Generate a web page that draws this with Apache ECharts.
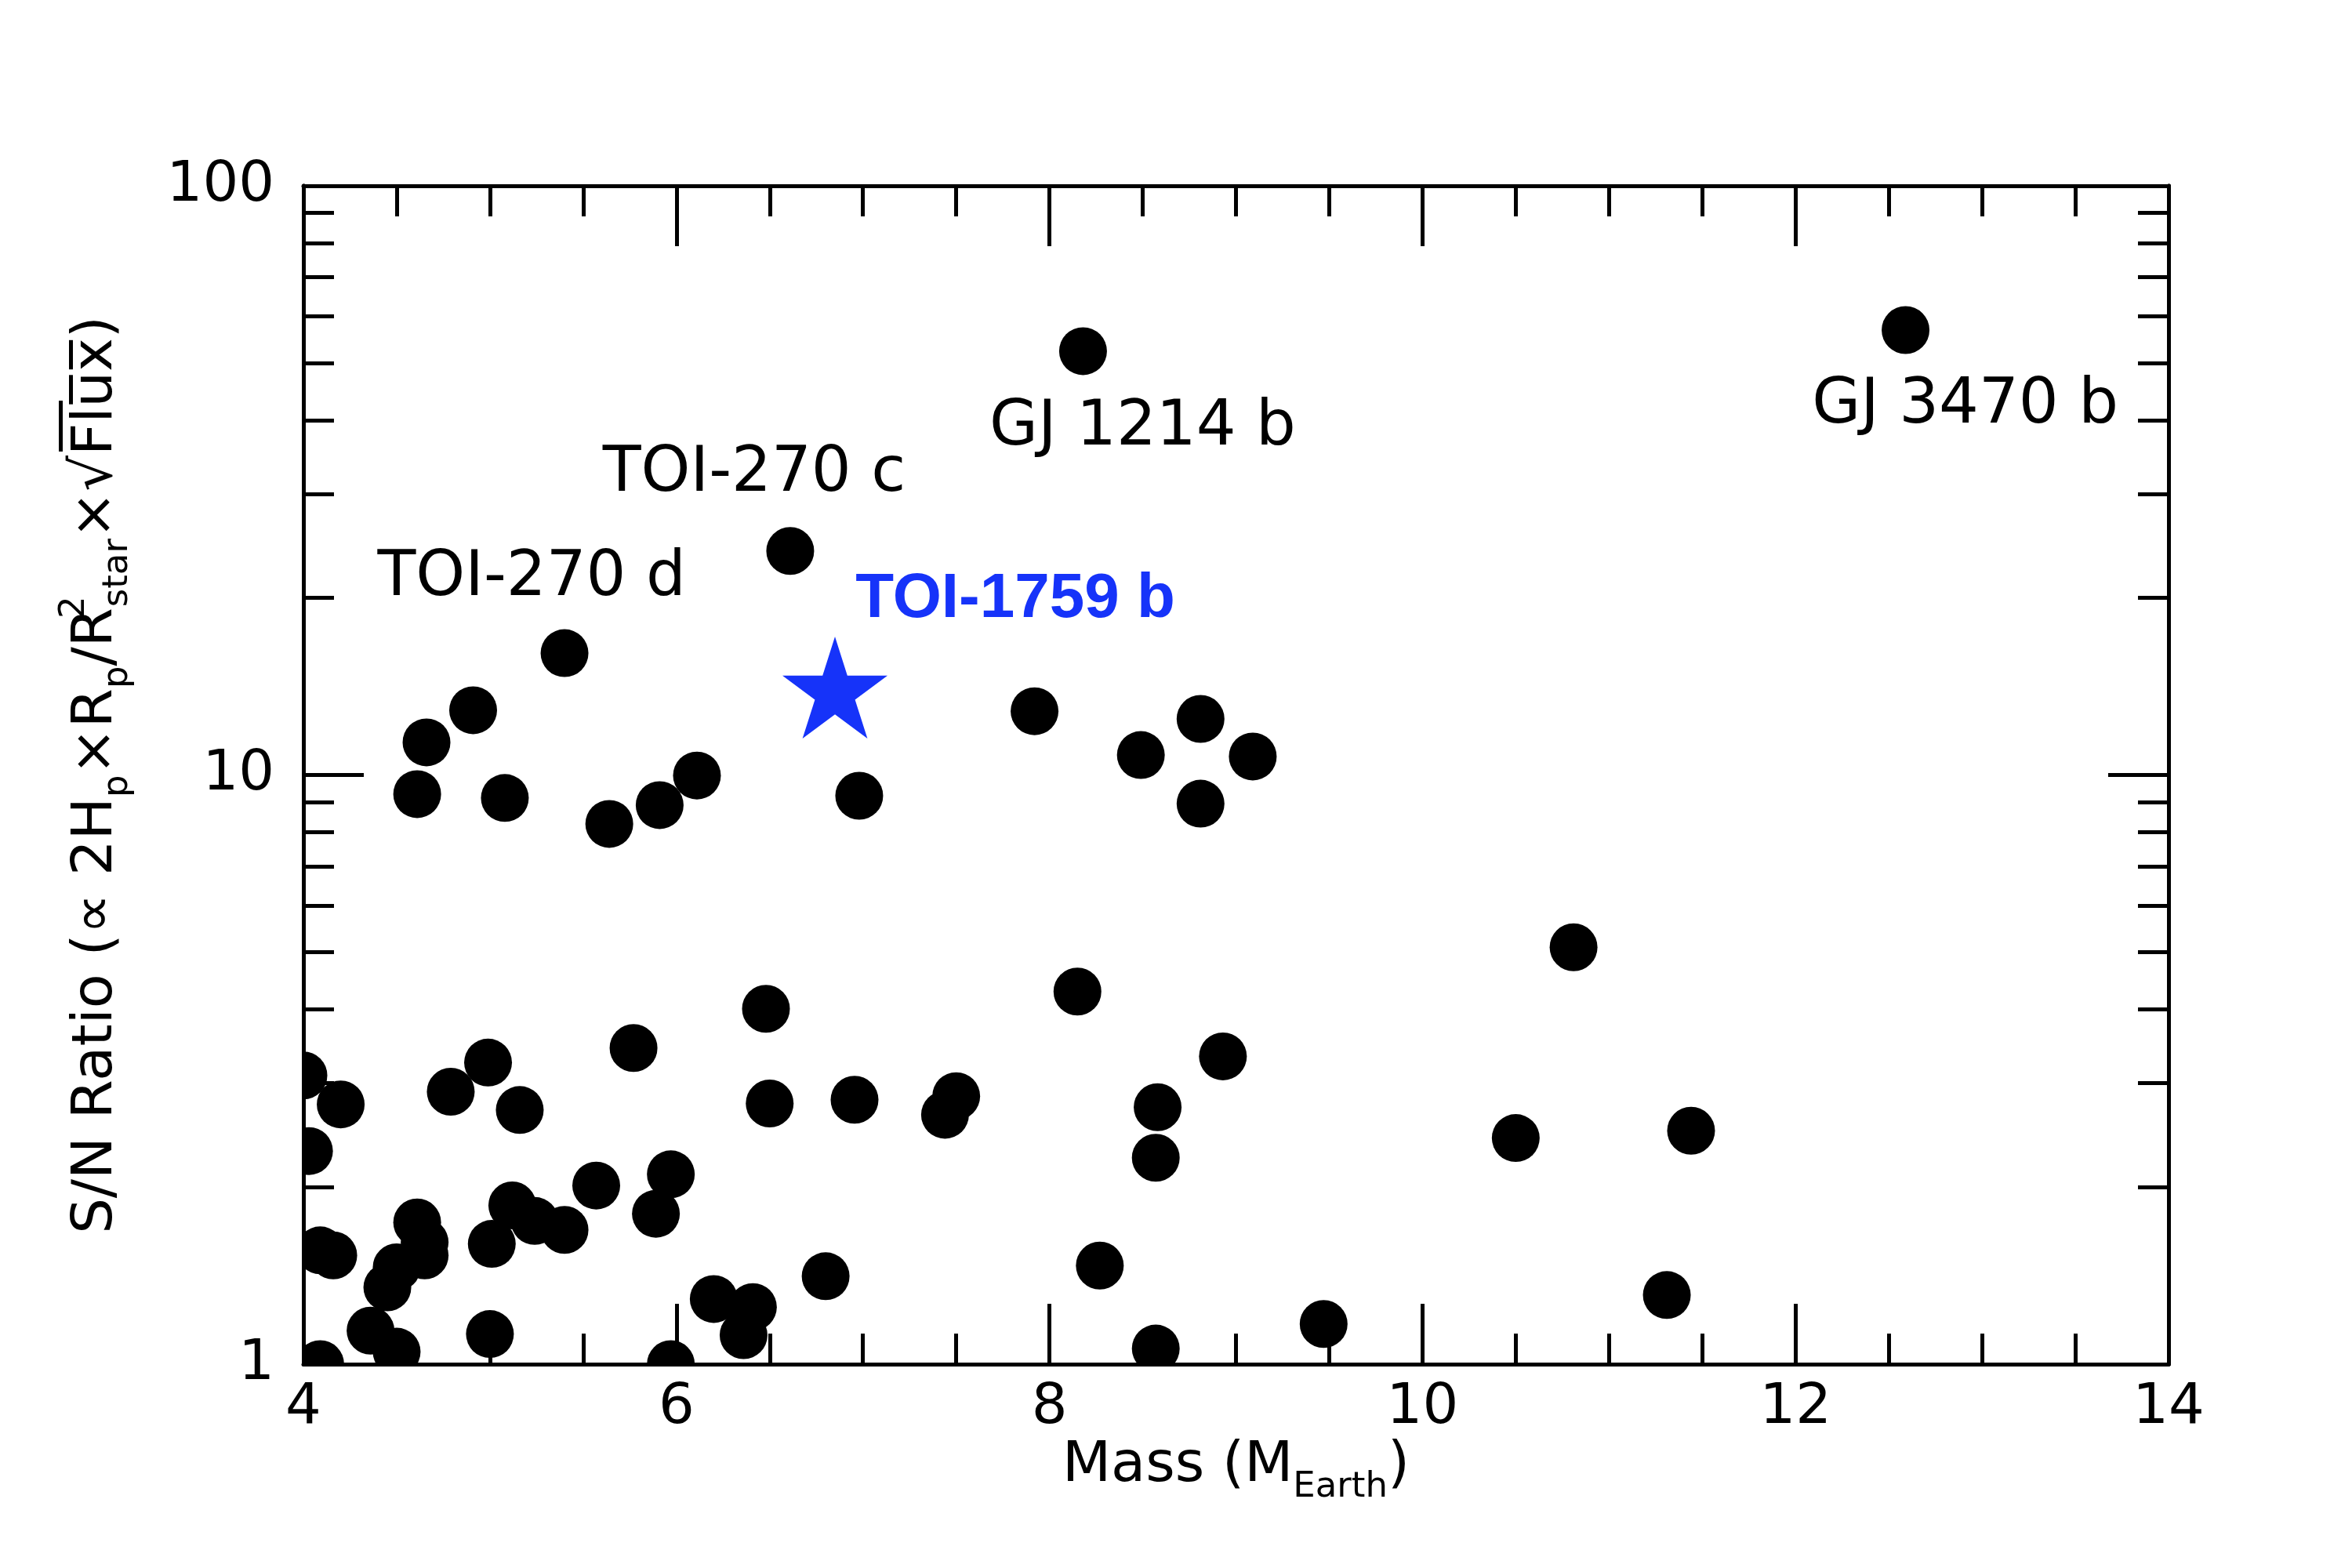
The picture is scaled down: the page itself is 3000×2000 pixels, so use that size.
<!DOCTYPE html>
<html>
<head>
<meta charset="utf-8">
<title>S/N ratio vs mass</title>
<script src="https://cdn.jsdelivr.net/npm/echarts@6/dist/echarts.min.js"></script>
<style>
  html, body { margin: 0; padding: 0; background: #fff; }
  #main { width: 3000px; height: 2000px; }
</style>
</head>
<body>
<div id="main"></div>
<script>
// field planets: mass (Earth masses) and S/N ratio
var mass = [
  4.91, 4.66, 4.61, 5.08, 5.64, 5.91, 6.11, 6.98, 7.92, 8.49, 8.81, 8.81, 9.09,
  10.81, 8.15, 6.48, 5.77, 4.99, 8.93, 4.79, 4.00, 4.20, 5.16, 6.50, 6.955, 7.50, 7.44, 8.58, 8.57, 10.50, 11.44, 4.03,
  5.97, 5.57, 5.12, 5.24, 5.40, 5.89, 4.61, 4.65, 4.65, 4.09, 4.16, 5.01, 4.50, 4.45, 6.80, 8.27, 6.20, 6.41, 6.36,
  4.36, 5.00, 4.50, 4.09, 5.97, 8.57, 9.47, 11.31
];
var snr = [
  12.88, 11.36, 9.28, 9.14, 8.26, 8.89, 9.98, 9.22, 12.83, 10.81, 12.45, 8.94, 10.75,
  5.10, 4.29, 4.01, 3.44, 3.25, 3.33, 2.90, 3.09, 2.76, 2.70, 2.77, 2.81, 2.85, 2.65, 2.73, 2.24, 2.42, 2.49, 2.30,
  2.10, 2.01, 1.86, 1.75, 1.69, 1.80, 1.74, 1.61, 1.53, 1.56, 1.53, 1.60, 1.46, 1.35, 1.41, 1.47, 1.29, 1.25, 1.12,
  1.14, 1.125, 1.05, 1.00, 1.00, 1.063, 1.17, 1.31
];

// labelled planets
var namedPlanets = ['GJ 3470 b', 'GJ 1214 b', 'TOI-270 c', 'TOI-270 d'];
var namedMass = [12.59, 8.18, 6.61, 5.40];
var namedSnr = [56.9, 52.4, 24.0, 16.1];

// target
var targetName = 'TOI-1759 b';
var targetMass = 6.85;
var targetSnr = 14.07;

var xTicks = [4, 6, 8, 10, 12, 14];
var yMajorTicks = [1, 10, 100];
var yMinorTicks = [2, 3, 4, 5, 6, 7, 8, 9, 20, 30, 40, 50, 60, 70, 80, 90];

var labelOffset = {
  'GJ 3470 b': [76, 97],
  'GJ 1214 b': [76, 98],
  'TOI-270 c': [-46, -98],
  'TOI-270 d': [-42, -95]
};

var starPath = 'path://M50 0 L61.23 34.55 L97.55 34.55 L68.16 55.9 L79.39 90.45 L50 69.1 L20.61 90.45 L31.84 55.9 L2.45 34.55 L38.77 34.55 Z';
var font = 'DejaVu Sans';
var blue = '#1633f9';

var myChart = echarts.init(document.getElementById('main'));

function xAxisOpt(pos, withLabel) {
  return {
    type: 'value',
    position: pos,
    min: xTicks[0],
    max: xTicks[xTicks.length - 1],
    interval: 2,
    z: 10,
    axisLine: { show: true, onZero: false, lineStyle: { color: '#000', width: 5 } },
    axisTick: { show: true, inside: true, length: 77, lineStyle: { color: '#000', width: 5 } },
    minorTick: { show: true, splitNumber: 4, length: 39, lineStyle: { color: '#000', width: 5 } },
    splitLine: { show: false },
    minorSplitLine: { show: false },
    axisLabel: {
      show: withLabel, color: '#000', fontFamily: font, fontSize: 72, margin: 20
    },
    name: withLabel ? 'Mass (M{sub|Earth})' : '',
    nameLocation: 'middle',
    nameMoveOverlap: false,
    nameGap: 80,
    nameTextStyle: {
      color: '#000', fontFamily: font, fontSize: 72, lineHeight: 100,
      rich: {
        sub: { fontFamily: font, fontSize: 45, lineHeight: 45, verticalAlign: 'bottom', color: '#000' }
      }
    }
  };
}

function yAxisOpt(pos, ticks, len, withLabel, withName) {
  return {
    type: 'log',
    logBase: 10,
    position: pos,
    min: 1,
    max: 100,
    z: 10,
    axisLine: { show: true, onZero: false, lineStyle: { color: '#000', width: 5 } },
    axisTick: { show: true, inside: true, length: len, customValues: ticks, lineStyle: { color: '#000', width: 5 } },
    minorTick: { show: false },
    splitLine: { show: false },
    axisLabel: {
      show: withLabel, customValues: yMajorTicks, color: '#000', fontFamily: font, fontSize: 72, margin: 37
    },
    name: withName ? 'S/N Ratio (\u221D 2H{sub|p}\u00D7R{sub|p}/R{sup|2}{sub|star}\u00D7\u221AF\u0305l\u0305u\u0305x\u0305)' : '',
    nameLocation: 'middle',
    nameMoveOverlap: false,
    nameGap: 214,
    nameTextStyle: {
      color: '#000', fontFamily: font, fontSize: 72, lineHeight: 100,
      rich: {
        sub: { fontFamily: font, fontSize: 45, lineHeight: 45, verticalAlign: 'bottom', color: '#000' },
        sup: { fontFamily: font, fontSize: 45, lineHeight: 45, verticalAlign: 'top', width: 1, color: '#000' }
      }
    }
  };
}

var fieldData = [];
for (var i = 0; i < mass.length; i++) {
  fieldData.push([mass[i], snr[i]]);
}

var namedData = [];
for (var j = 0; j < namedPlanets.length; j++) {
  namedData.push({
    name: namedPlanets[j],
    value: [namedMass[j], namedSnr[j]],
    label: { offset: labelOffset[namedPlanets[j]] }
  });
}

var option = {
  backgroundColor: '#fff',
  animation: false,
  grid: { left: 387, right: 234, top: 237, bottom: 260, containLabel: false, show: false },
  xAxis: [xAxisOpt('bottom', true), xAxisOpt('top', false)],
  yAxis: [
    yAxisOpt('left', yMajorTicks, 77, true, true),
    yAxisOpt('left', yMinorTicks, 39, false, false),
    yAxisOpt('right', yMajorTicks, 77, false, false),
    yAxisOpt('right', yMinorTicks, 39, false, false)
  ],
  series: [
    {
      name: 'planets',
      type: 'custom',
      coordinateSystem: 'cartesian2d',
      xAxisIndex: 0,
      yAxisIndex: 0,
      clip: true,
      z: 2,
      data: fieldData,
      renderItem: function (params, api) {
        var p = api.coord([api.value(0), api.value(1)]);
        return {
          type: 'circle',
          shape: { cx: p[0], cy: p[1], r: 30.5 },
          style: { fill: '#000' }
        };
      }
    },
    {
      name: 'named',
      type: 'scatter',
      xAxisIndex: 0,
      yAxisIndex: 0,
      symbol: 'circle',
      symbolSize: 61,
      itemStyle: { color: '#000', opacity: 1 },
      z: 2,
      label: {
        show: true,
        position: 'inside',
        formatter: '{b}',
        color: '#000',
        opacity: 1,
        fontFamily: font,
        fontSize: 80
      },
      data: namedData
    },
    {
      name: targetName,
      type: 'scatter',
      xAxisIndex: 0,
      yAxisIndex: 0,
      symbol: starPath,
      symbolSize: [134, 130],
      itemStyle: { color: blue, opacity: 1 },
      z: 3,
      label: {
        show: true,
        position: 'inside',
        offset: [230, -112],
        formatter: '{b}',
        color: blue,
        opacity: 1,
        fontFamily: 'Liberation Sans',
        fontWeight: 'bold',
        fontSize: 80
      },
      data: [{ name: targetName, value: [targetMass, targetSnr] }]
    }
  ]
};

myChart.setOption(option);
</script>
</body>
</html>
